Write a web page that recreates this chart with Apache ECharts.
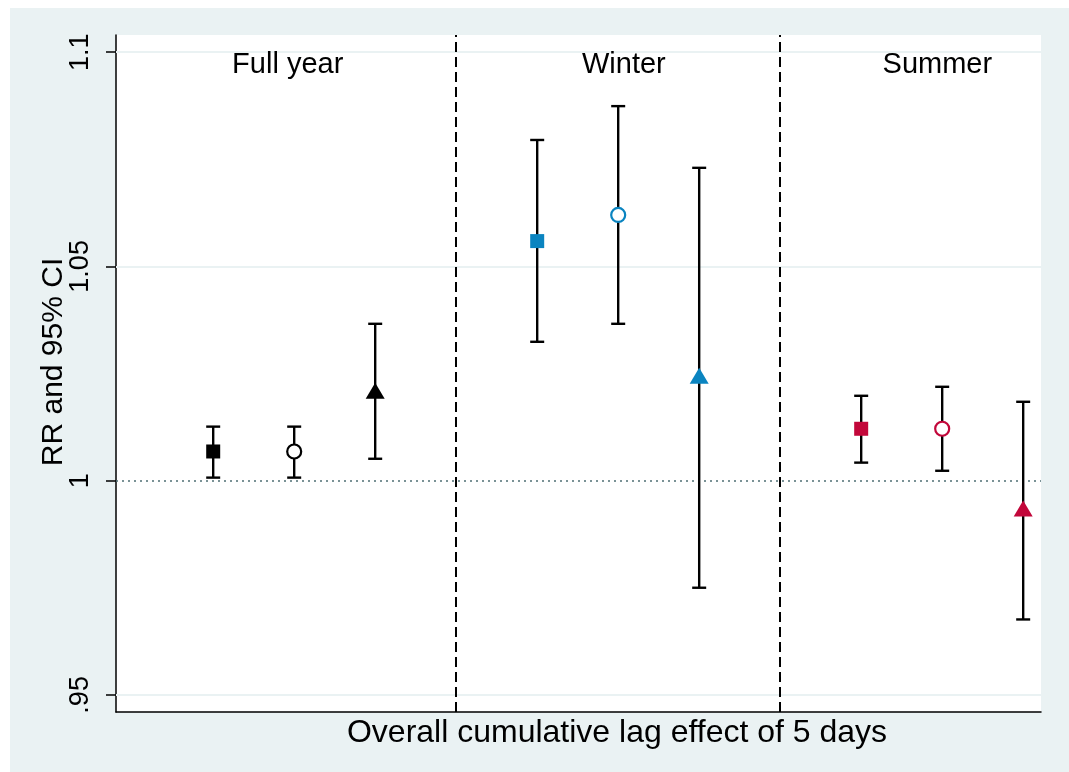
<!DOCTYPE html>
<html>
<head>
<meta charset="utf-8">
<script src="https://cdn.jsdelivr.net/npm/echarts@6/dist/echarts.min.js"></script>
<style>
  html, body { margin: 0; padding: 0; background: #fff; }
  #chart { width: 1069px; height: 772px; }
</style>
</head>
<body>
<div id="chart"></div>
<script>
// point positions along x (gaps at 4 and 8 hold the season separators)
const xPos = [1, 2, 3, 5, 6, 7, 9, 10, 11]
const rr = [1.0068, 1.0068, 1.021, 1.0559, 1.062, 1.0245, 1.0121, 1.0121, 0.9935]
const lower = [1.0007, 1.0007, 1.0051, 1.0324, 1.0366, 0.975, 1.0042, 1.0023, 0.9676]
const upper = [1.0126, 1.0126, 1.0366, 1.0795, 1.0874, 1.073, 1.0198, 1.0219, 1.0184]
const markerKind = ['square', 'circle', 'triangle', 'square', 'circle', 'triangle', 'square', 'circle', 'triangle']
const markerColor = ['#000000', '#000000', '#000000', '#0a84c0', '#0a84c0', '#0a84c0', '#c2073a', '#c2073a', '#c2073a']

const groupNames = ['Full year', 'Winter', 'Summer']
const groupX = [1.92, 6.07, 9.94]
const separators = [4, 8]
const yTicks = [0.95, 1, 1.05, 1.1]

const FONT = 'Liberation Sans, Arial, sans-serif'
const BG = '#eaf2f3'

const chart = echarts.init(document.getElementById('chart'))

const fmtTick = v => {
  const s = String(+v.toFixed(2))
  return s.startsWith('0') ? s.slice(1) : s
}

const pointData = xPos.map((x, i) => {
  const c = markerColor[i]
  const item = { value: [x, rr[i]] }
  if (markerKind[i] === 'square') {
    item.symbol = 'rect'
    item.symbolSize = 14
    item.itemStyle = { color: c, opacity: 1 }
  } else if (markerKind[i] === 'circle') {
    item.symbol = 'circle'
    item.symbolSize = 14
    item.itemStyle = { color: '#ffffff', borderColor: c, borderWidth: 2.2, opacity: 1 }
  } else {
    item.symbol = 'triangle'
    item.symbolSize = [19, 16]
    item.itemStyle = { color: c, opacity: 1 }
  }
  return item
})

const option = {
  backgroundColor: '#ffffff',
  animation: false,
  graphic: [
    { type: 'rect', z: -10, shape: { x: 10, y: 8, width: 1059, height: 764 }, style: { fill: BG } },
    { type: 'rect', z: -9, shape: { x: 116, y: 35, width: 925, height: 677 }, style: { fill: '#ffffff' } },
    {
      type: 'text', x: 617, y: 733, z: 10,
      style: {
        text: 'Overall cumulative lag effect of 5 days',
        font: '32px ' + FONT, fill: '#000', align: 'center', verticalAlign: 'middle'
      }
    },
    {
      // y axis title, placed by hand so the tick labels don't push it out
      type: 'text', x: 54, y: 362, rotation: Math.PI / 2, z: 10,
      style: {
        text: 'RR and 95% CI',
        font: '30px ' + FONT, fill: '#000', align: 'center', verticalAlign: 'middle'
      }
    }
  ],
  grid: { left: 116, right: 28, top: 35, bottom: 60 },
  xAxis: {
    type: 'value',
    min: -0.2,
    max: 11.22,
    axisLine: { show: true, onZero: false, lineStyle: { color: '#000', width: 1.5 } },
    axisTick: { show: false },
    axisLabel: { show: false },
    splitLine: { show: false }
  },
  yAxis: {
    type: 'value',
    min: 0.946,
    max: 1.104,
    axisLine: { show: true, onZero: false, lineStyle: { color: '#000', width: 1.5 } },
    axisTick: { show: true, length: 10, customValues: yTicks, lineStyle: { color: '#000', width: 1.5 } },
    axisLabel: {
      customValues: yTicks,
      rotate: 90,
      margin: 22,
      fontFamily: FONT,
      fontSize: 27,
      color: '#000',
      formatter: fmtTick
    },
    splitLine: { show: false }
  },
  series: [
    {
      type: 'custom',
      z: 2,
      data: xPos.map((x, i) => [x, lower[i], upper[i]]),
      renderItem: (params, api) => {
        const lo = api.coord([api.value(0), api.value(1)])
        const hi = api.coord([api.value(0), api.value(2)])
        const w = 7
        const st = { stroke: '#000', lineWidth: 2.4 }
        return {
          type: 'group',
          children: [
            { type: 'line', shape: { x1: lo[0], y1: lo[1], x2: hi[0], y2: hi[1] }, style: st },
            { type: 'line', shape: { x1: lo[0] - w, y1: lo[1], x2: lo[0] + w, y2: lo[1] }, style: st },
            { type: 'line', shape: { x1: hi[0] - w, y1: hi[1], x2: hi[0] + w, y2: hi[1] }, style: st }
          ]
        }
      },
      markLine: {
        silent: true,
        symbol: 'none',
        label: { show: false },
        z: 1,
        data: [
          ...yTicks.filter(v => v !== 1).map(v => ({ yAxis: v, lineStyle: { color: BG, width: 2, type: 'solid', opacity: 1 } })),
          { yAxis: 1, lineStyle: { color: '#4f6f74', width: 1.5, type: [2, 4], opacity: 1 } },
          ...separators.map(v => ({ xAxis: v, lineStyle: { color: '#000', width: 2, type: [10, 5], opacity: 1 } }))
        ]
      }
    },
    {
      type: 'scatter',
      z: 3,
      itemStyle: { opacity: 1 },
      data: pointData
    },
    {
      type: 'scatter',
      z: 3,
      symbolSize: 0,
      silent: true,
      itemStyle: { opacity: 1 },
      data: groupX.map((x, i) => ({ value: [x, 1.097], name: groupNames[i] })),
      label: {
        show: true,
        position: 'inside',
        formatter: p => p.name,
        fontFamily: FONT,
        fontSize: 29,
        color: '#000',
        opacity: 1
      }
    }
  ]
}

chart.setOption(option)
</script>
</body>
</html>
